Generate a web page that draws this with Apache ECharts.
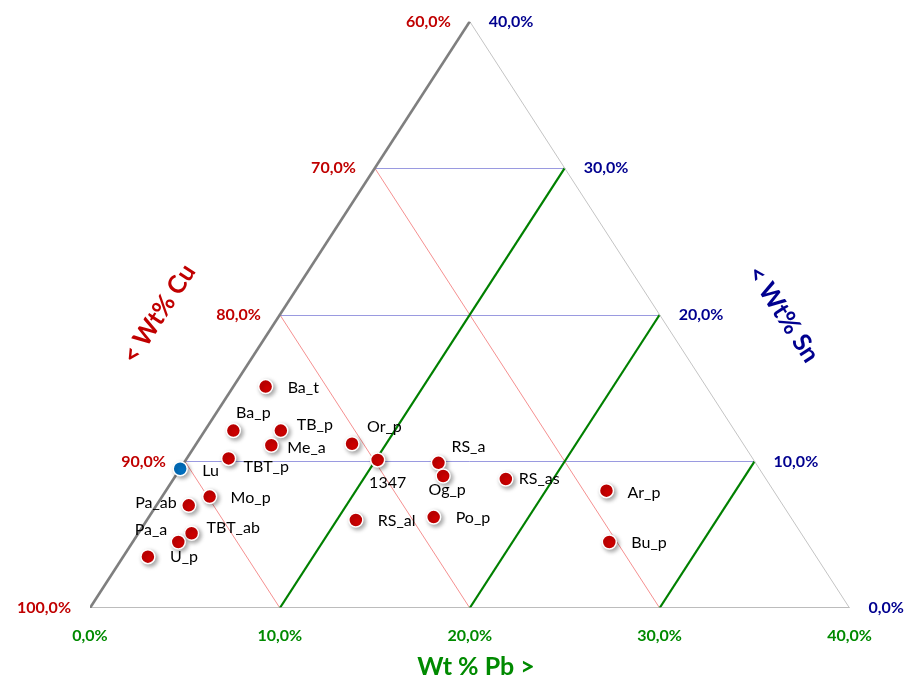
<!DOCTYPE html>
<html><head><meta charset="utf-8">
<script src="https://cdn.jsdelivr.net/npm/echarts@6/dist/echarts.min.js"></script>
<style>html,body{margin:0;padding:0;background:#fff}#c{width:909px;height:679px}</style>
</head><body><div id="c"></div><script>
// ---- data (ternary: Wt% Pb, Wt% Sn; Cu = 100 - Pb - Sn) ----
const sampleNames = ['Ba_t','Ba_p','TB_p','Me_a','TBT_p','Lu','Mo_p','Pa_ab','TBT_ab','Pa_a','U_p','Or_p','1347','RS_a','Og_p','RS_as','RS_al','Po_p','Ar_p','Bu_p'];
const pbValues = [1.7, 1.5, 4.0, 4.0, 2.2, 0.0, 2.5, 1.7, 2.8, 2.4, 1.3, 8.2, 10.1, 13.4, 14.1, 17.5, 11.0, 15.0, 23.2, 25.1];
const snValues = [15.1, 12.1, 12.1, 11.1, 10.2, 9.5, 7.6, 7.0, 5.1, 4.5, 3.5, 11.2, 10.1, 9.9, 9.0, 8.8, 6.0, 6.2, 8.0, 4.5];
const highlightName = 'Lu';
const tickSteps = [0, 10, 20, 30, 40];
const gridSteps = [10, 20, 30];
const pbTickLabels = ['0,0%','10,0%','20,0%','30,0%','40,0%'];
const cuTickLabels = ['100,0%','90,0%','80,0%','70,0%','60,0%'];
const snTickLabels = ['0,0%','10,0%','20,0%','30,0%','40,0%'];
const RANGE = 40;

// ---- label placement (style, kept apart from data) ----
const labelPlace = {
  'Ba_t':['left',22,1],'Ba_p':['center',20,-18],'TB_p':['left',16,-6],'Me_a':['left',16,3],
  'TBT_p':['left',15,8],'Lu':['left',22,2],'Mo_p':['left',21,1],'Pa_ab':['right',-12,-3],
  'TBT_ab':['left',15,-5],'Pa_a':['right',-11,-12],'U_p':['left',22,0],'Or_p':['left',15,-17],
  '1347':['center',10,23],'RS_a':['left',13,-16],'Og_p':['center',4,14],'RS_as':['left',13,0],
  'RS_al':['left',22,1],'Po_p':['left',22,1],'Ar_p':['left',21,2],'Bu_p':['left',22,1]
};

const RED = '#c00000', BLUE = '#00008f', GREEN = '#008a00';
const FONT = 'Lato, "Open Sans", sans-serif';

function tern(pb, sn) { return [pb + sn / 2, sn]; }
function seg(a, b, color, width) {
  return { coords: [a, b], lineStyle: { color: color, width: width, opacity: 1 } };
}

const snLines = gridSteps.map(s => seg(tern(0, s), tern(RANGE - s, s), '#9a9ae0', 1));
const cuLines = gridSteps.map(t => seg(tern(0, t), tern(t, 0), '#f06060', 0.7));
const pbLines = gridSteps.map(p => seg(tern(p, 0), tern(p, RANGE - p), '#008000', 2.2));
const edges = [
  seg(tern(0, 0), tern(RANGE, 0), '#a6a6a6', 1.5),
  seg(tern(RANGE, 0), tern(0, RANGE), '#c4c4c4', 1),
  seg(tern(0, 0), tern(0, RANGE), '#7f7f7f', 2.6)
];

function linesSeries(data, z) {
  return { type: 'lines', coordinateSystem: 'cartesian2d', polyline: false, silent: true, z: z, data: data, animation: false,
           lineStyle: { opacity: 1 } };
}

function tickSeries(points, labels, color, position, distance) {
  return {
    type: 'scatter', symbolSize: 0, silent: true, z: 5,
    itemStyle: { opacity: 1 },
    data: points.map((p, i) => ({ value: p, label: { formatter: labels[i] } })),
    label: { show: true, position: position, distance: distance, color: color, fontFamily: FONT, fontWeight: 'bold', fontSize: 16 }
  };
}

const samplePoints = sampleNames.map((n, i) => {
  const lp = labelPlace[n];
  const isHi = n === highlightName;
  return {
    name: n,
    value: tern(pbValues[i], snValues[i]),
    itemStyle: { color: isHi ? '#0070c0' : '#cc0000' },
    label: { align: lp[0], offset: [lp[1], lp[2]] }
  };
});

const chart = echarts.init(document.getElementById('c'));
chart.setOption({
  animation: false,
  backgroundColor: '#fff',
  grid: { left: 90, top: 21.5, width: 759.5, height: 586.5, containLabel: false },
  xAxis: { type: 'value', min: 0, max: RANGE, show: false },
  yAxis: { type: 'value', min: 0, max: RANGE, show: false },
  series: [
    linesSeries(snLines, 1),
    linesSeries(cuLines, 1),
    linesSeries(pbLines, 2),
    linesSeries(edges, 3),
    tickSeries(tickSteps.map(s => tern(0, s)), cuTickLabels, RED, 'left', 19),
    tickSeries(tickSteps.map(s => tern(RANGE - s, s)), snTickLabels, BLUE, 'right', 19),
    tickSeries(tickSteps.map(p => tern(p, 0)), pbTickLabels, GREEN, 'bottom', 20),
    {
      type: 'scatter', z: 10, silent: true,
      symbol: 'circle', symbolSize: 14,
      itemStyle: { opacity: 1, borderColor: '#ffffff', borderWidth: 1.5, shadowBlur: 4, shadowOffsetX: 2, shadowOffsetY: 2, shadowColor: 'rgba(0,0,0,0.35)' },
      label: { show: true, position: 'inside', verticalAlign: 'middle', formatter: '{b}', color: '#000', fontFamily: FONT, fontSize: 16 },
      data: samplePoints
    }
  ],
  graphic: [
    { type: 'text', x: 476, y: 667, style: { text: 'Wt % Pb >', fill: GREEN, font: 'bold 25px ' + FONT, textAlign: 'center', textVerticalAlign: 'middle' } },
    { type: 'text', x: 159, y: 314, rotation: 57 * Math.PI / 180, style: { text: '< Wt% Cu', fill: RED, font: 'bold 25px ' + FONT, textAlign: 'center', textVerticalAlign: 'middle' } },
    { type: 'text', x: 783, y: 314, rotation: -57 * Math.PI / 180, style: { text: '< Wt% Sn', fill: BLUE, font: 'bold 25px ' + FONT, textAlign: 'center', textVerticalAlign: 'middle' } }
  ]
});
</script></body></html>
